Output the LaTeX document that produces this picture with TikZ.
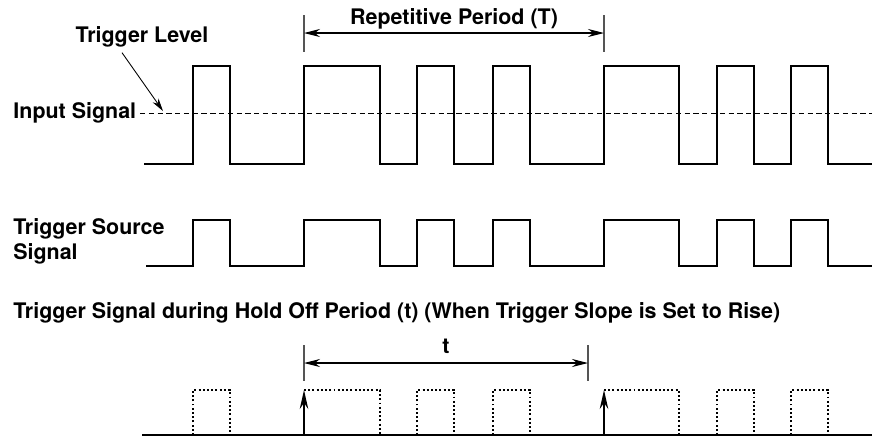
\documentclass[tikz,border=0pt]{standalone}
\usepackage{fontspec}
\setmainfont{TeX Gyre Heros}
\usetikzlibrary{arrows.meta, positioning, calc}
\definecolor{sigdark}{HTML}{000000}
\definecolor{dimgray}{HTML}{555555}
\tikzset{
  lbl/.style={font=\fontsize{12.2}{14.2}\selectfont\bfseries, text=sigdark, inner sep=0pt, align=left},
  wave/.style={line width=1.1pt, sigdark, line join=miter},
  ghost/.style={line width=1.1pt, sigdark, dash pattern=on 1.1pt off 1.3pt},
  level/.style={line width=0.5pt, sigdark, dash pattern=on 3pt off 2pt},
  dimarr/.style={{Stealth[length=3.2mm, width=1.6mm]}-{Stealth[length=3.2mm, width=1.6mm]}, line width=0.6pt, sigdark},
  tick/.style={line width=0.6pt, dimgray},
  trig/.style={-{Stealth[length=3.8mm, width=1.7mm]}, line width=1.1pt, sigdark},
  ptr/.style={-{Stealth[length=2.6mm, width=1.4mm]}, line width=0.5pt, sigdark},
}

\begin{document}
\begin{tikzpicture}[x=0.02cm, y=-0.02cm]
    \useasboundingbox (0,0) rectangle (872,437);

    % labels
    \node[lbl, anchor=west] (inlbl) at (13,113) {Input Signal};
    \node[lbl] (levlbl) at (142,37) {Trigger Level};
    \node[lbl, anchor=west] (srclbl) at (13,241) {Trigger Source\\Signal};
    \node[lbl, anchor=west] (holdlbl) at (13,313) {Trigger Signal during Hold Off Period (t) (When Trigger Slope is Set to Rise)};
    \node[lbl] (perlbl) at (454,19) {Repetitive Period (T)};
    \node[lbl] (tlbl) at (446,346) {t};

    % trigger level
    \coordinate (lev) at (163,111);
    \draw[level] (inlbl.east) ++(2pt,0) -- (872,113);
    \draw[ptr] (levlbl.south) ++(-0.4cm,-0.1cm) -- (lev);

    % input signal
    \draw[wave] (144,164) \foreach \r/\f in {193/230, 304/380, 417/454, 493/530, 604/679, 717/754, 791/828} {
      -- (\r,164) -- (\r,66) -- (\f,66) -- (\f,164) } -- (872,164);

    % trigger source signal
    \draw[wave] (146,266) \foreach \r/\f in {193/230, 304/380, 417/454, 493/530, 604/679, 717/754, 791/828} {
      -- (\r,266) -- (\r,220) -- (\f,220) -- (\f,266) } -- (872,266);

    % repetitive period
    \coordinate (pa) at (304,33);
    \coordinate (pb) at (604,33);
    \draw[tick] (304,15) -- (304,52);
    \draw[tick] (604,15) -- (604,52);
    \draw[dimarr] (pa) -- (pb);

    % hold off period
    \coordinate (ha) at (304,363);
    \coordinate (hb) at (588,363);
    \draw[tick] (304,345) -- (304,381);
    \draw[tick] (588,345) -- (588,381);
    \draw[dimarr] (ha) -- (hb);

    % trigger signal
    \draw[wave] (142,435) -- (872,435);
    \foreach \r/\f in {193/230, 417/454, 493/530, 717/754, 791/828}
      \draw[ghost] (\r,435) -- (\r,390) -- (\f,390) -- (\f,435);
    \foreach \r/\f in {304/380, 604/679} {
      \draw[ghost] (\r,390) -- (\f,390) -- (\f,435);
      \draw[trig] (\r,435) -- (\r,390);
    }
  \end{tikzpicture}
\end{document}
